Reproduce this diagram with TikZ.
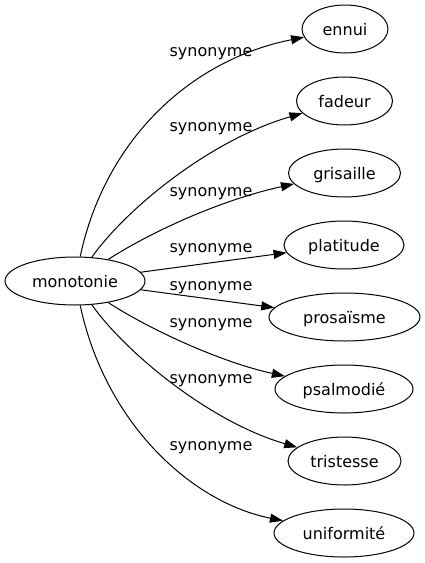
\documentclass[tikz,border=0pt]{standalone}
\usepackage{fontspec}
\setmainfont{DejaVu Sans}
\usetikzlibrary{arrows.meta,shapes.geometric}
\begin{document}
\begin{tikzpicture}[x=1pt,y=-1pt,
  word/.style={ellipse, draw, line width=1pt, inner sep=0pt, minimum height=48pt,
    text height=15pt, text depth=3pt, font=\fontsize{16}{19}\selectfont},
  lab/.style={inner sep=0pt, anchor=base, font=\fontsize{16}{19}\selectfont},
  edge/.style={-{Triangle[length=13pt,width=9pt]}, line width=1pt}]
\useasboundingbox (0,0) rectangle (425,563);
\node[word, minimum width=140pt] (mono) at (75,281) {monotonie};
\node[word, minimum width=86pt]  (ennui) at (345,29) {ennui};
\node[word, minimum width=96pt]  (fadeur) at (344.5,101) {fadeur};
\node[word, minimum width=112pt] (gris) at (344.5,173) {grisaille};
\node[word, minimum width=120pt] (plat) at (344,245) {platitude};
\node[word, minimum width=151pt] (pros) at (344.5,317) {prosaïsme};
\node[word, minimum width=138pt] (psal) at (344,389) {psalmodié};
\node[word, minimum width=113pt] (trist) at (344.5,461) {tristesse};
\node[word, minimum width=140pt] (unif) at (344,533) {uniformité};

\node[lab] (l1) at (211,56) {synonyme};
\node[lab] (l2) at (211,131) {synonyme};
\node[lab] (l3) at (211,196) {synonyme};
\node[lab] (l4) at (211,252) {synonyme};
\node[lab] (l5) at (211,290) {synonyme};
\node[lab] (l6) at (211,327) {synonyme};
\node[lab] (l7) at (211,383) {synonyme};
\node[lab] (l8) at (211,450) {synonyme};

\draw[edge] (mono) .. controls (105,140) and (190,60) .. (ennui);
\draw[edge] (mono) .. controls (126,209) and (210,140) .. (fadeur);
\draw[edge] (mono) .. controls (149,233) and (220,200) .. (gris);
\draw[edge] (mono) -- (plat);
\draw[edge] (mono) -- (pros);
\draw[edge] (mono) .. controls (149,329) and (220,362) .. (psal);
\draw[edge] (mono) .. controls (126,353) and (210,422) .. (trist);
\draw[edge] (mono) .. controls (105,422) and (190,502) .. (unif);
\end{tikzpicture}
\end{document}
